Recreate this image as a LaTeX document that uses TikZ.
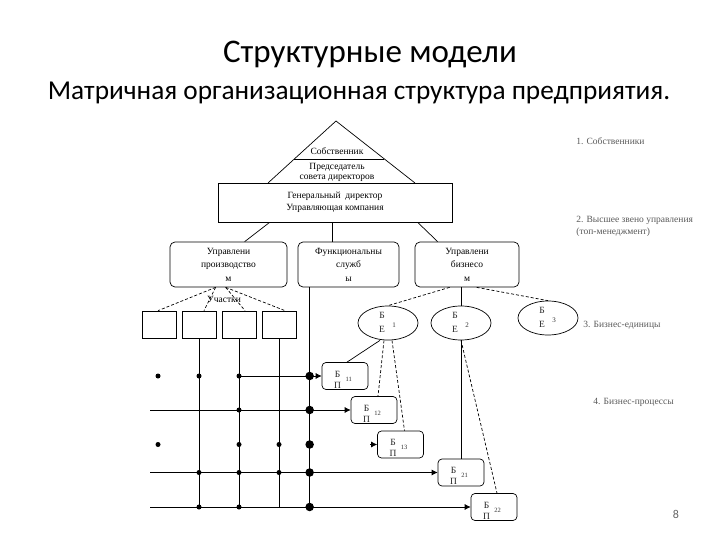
\documentclass[tikz,border=0pt]{standalone}
\usepackage{fontspec}
\setmainfont{Liberation Serif}
\newfontfamily\titlefont{Carlito}
\usetikzlibrary{shapes.geometric,arrows.meta,calc}
\begin{document}
\begin{tikzpicture}[x=1pt,y=-1pt,line width=0.7pt,
  txt/.style={font=\fontsize{9.5}{12}\selectfont, inner sep=0},
  mbox/.style={draw, rounded corners=5pt, minimum height=45pt, inner sep=0, align=center, font=\fontsize{9.5}{13.5}\selectfont},
  sq/.style={draw, minimum width=34pt, minimum height=27pt, inner sep=0},
  bee/.style={draw, ellipse, minimum width=60pt, minimum height=34pt, inner sep=0pt},
  bpb/.style={draw, rounded corners=4pt, minimum width=46pt, minimum height=27pt, inner sep=0},
  dsh/.style={dash pattern=on 3pt off 2pt},
  dotS/.style={circle, fill, inner sep=0, minimum size=5pt},
  dotB/.style={circle, fill, inner sep=0, minimum size=8.5pt},
  arr/.style={-{Latex[length=6pt,width=6pt]}},
  lbl/.style={font=\fontsize{9.5}{10}\selectfont, text=black!65, anchor=west, inner sep=0},
  sup/.style={font=\fontsize{6.5}{7}\selectfont, inner sep=0, text=black!80}
]
\useasboundingbox (0,0) rectangle (720,540);
\fill[white] (0,0) rectangle (720,540);

% titles
\node[font=\titlefont\fontsize{33}{35}\selectfont] (title) at (370,55) {Структурные модели};
\node[font=\titlefont\fontsize{27.3}{30}\selectfont] (sub) at (359,93) {Матричная организационная структура предприятия.};

% pyramid
\coordinate (apex) at (336,121);
\coordinate (pl) at (268,183);
\coordinate (pr) at (415,183);
\draw (pl) -- (apex) -- (pr);
\draw ($(pl)!0.387!(apex)$) -- ($(pr)!0.387!(apex)$);
\node[txt] (own) at (337,151) {Собственник};
\node[txt] (ch1) at (337,167) {Председатель};
\node[txt] (ch2) at (337,178) {совета директоров};

% general director
\node[draw, fill=white, minimum width=234pt, minimum height=39pt, inner sep=0, align=center, font=\fontsize{9.5}{12}\selectfont] (gd) at (335,202.5) {Генеральный\ \ директор\\Управляющая компания};

% three management boxes
\node[mbox, minimum width=117pt] (b1) at (228.5,264.5) {Управлени\\производство\\м};
\node[mbox, minimum width=101pt] (b2) at (348.5,264.5) {Функциональны\\служб\\ы};
\node[mbox, minimum width=104pt] (b3) at (467,264.5) {Управлени\\бизнесо\\м};

\draw ($(gd.south west)+(52,0)$) -- ($(b1.north west)+(75,0)$);
\draw ($(gd.south west)+(115,0)$) -- ($(b2.north west)+(35,0)$);
\draw ($(gd.south west)+(200,0)$) -- ($(b3.north west)+(23,0)$);

% sections (squares)
\node[sq] (u1) at (159,324.5) {};
\node[sq] (u2) at (199,324.5) {};
\node[sq] (u3) at (239,324.5) {};
\node[sq] (u4) at (279,324.5) {};
\draw[dsh] ($(b1.south west)+(46,0)$) -- ($(u1.north)+(-1,0)$);
\draw[dsh] ($(b1.south west)+(46,0)$) -- ($(u2.north)+(5,0)$);
\draw[dsh] ($(b1.south west)+(56,0)$) -- ($(u3.north)+(6,0)$);
\draw[dsh] ($(b1.south west)+(56,0)$) -- ($(u4.north)+(6,0)$);
\node[txt] (uch) at (224,299) {Участки};

% business units
\node[bee] (be1) at (388,323) {};
\node[bee] (be2) at (461,323) {};
\node[bee] (be3) at (548,318) {};
\foreach \e/\k in {be1/1, be2/2, be3/3} {
  \node[txt, text=black!85] at ($(\e.center)+(-6,-8)$) {Б};
  \node[txt, text=black!85] at ($(\e.center)+(-6,6)$) {Е};
  \node[sup, font=\fontsize{7}{7}\selectfont] at ($(\e.center)+(6,2)$) {\k};
}
\draw[dsh] ($(b3.south west)+(35,0)$) -- (be1.north);
\draw (be2.north |- b3.south) -- (be2.north);
\draw[dsh] ($(b3.south west)+(62,0)$) -- (be3.north);

% business processes
\foreach \n/\cx/\cy in {11/345/376, 12/374/410, 13/400.5/444.5, 21/461/472.5, 22/494/507} {
  \node[bpb, fill=white] (bp\n) at (\cx,\cy) {};
  \node[txt, text=black!85] at ($(bp\n.north west)+(16,12)$) {Б};
  \node[txt, text=black!85] at ($(bp\n.north west)+(16,23)$) {П};
  \node[sup] at ($(bp\n.north west)+(27,17)$) {\n};
}
\draw ($(be1.south)+(-8,0)$) -- ($(bp11.north)+(2,0)$);
\draw[dsh] ($(be1.south)+(-4,0)$) -- ($(bp12.north)+(4,0)$);
\draw[dsh] ($(be1.south)+(4,0)$) -- ($(bp13.north)+(4,0)$);
\draw (be2.south) -- (bp21.north);
\draw[dsh] (be2.south) -- ($(bp22.north)+(3,0)$);

% grid
\coordinate (c1) at (158,0);
\coordinate (fs) at ($(b2.south west)+(12,0)$);
\coordinate (r2) at (150,410);
\coordinate (r4) at (150,472.5);
\coordinate (r5) at (150,507);
\draw (u2.south) -- (u2.south |- r5);
\draw (u3.south) -- (u3.south |- r5);
\draw (u4.south) -- (u4.south |- r5);
\draw (fs) -- (fs |- r5);

\draw[arr] (u3.south |- bp11.west) -- (bp11.west);
\draw[arr] (r2) -- (bp12.west);
\draw[arr] ($(bp13.west)+(-7,0)$) -- (bp13.west);
\draw[arr] (r4) -- (bp21.west);
\draw[arr] (r5) -- (bp22.west);

% dots
\foreach \c in {c1, u2.south, u3.south} \node[dotS] at (\c |- bp11.west) {};
\node[dotB] at (fs |- bp11.west) {};
\node[dotS] at (u3.south |- r2) {};
\node[dotB] at (fs |- r2) {};
\foreach \c in {c1, u3.south, u4.south} \node[dotS] at (\c |- bp13.west) {};
\node[dotB] at (fs |- bp13.west) {};
\foreach \c in {u2.south, u3.south, u4.south} \node[dotS] at (\c |- r4) {};
\node[dotB] at (fs |- r4) {};
\foreach \c in {u2.south, u3.south} \node[dotS] at (\c |- r5) {};
\node[dotB] at (fs |- r5) {};

% level labels
\node[lbl] (l1) at (576,141) {1. Собственники};
\node[lbl] (l2) at (576,220) {2. Высшее звено управления};
\node[lbl] (l3) at (576,232) {(топ-менеджмент)};
\node[lbl] (l4) at (583,325) {3. Бизнес-единицы};
\node[lbl] (l5) at (593,402) {4. Бизнес-процессы};

\node[font=\titlefont\fontsize{12}{12}\selectfont, text=black!60] (pg) at (676,514) {8};
\end{tikzpicture}
\end{document}
